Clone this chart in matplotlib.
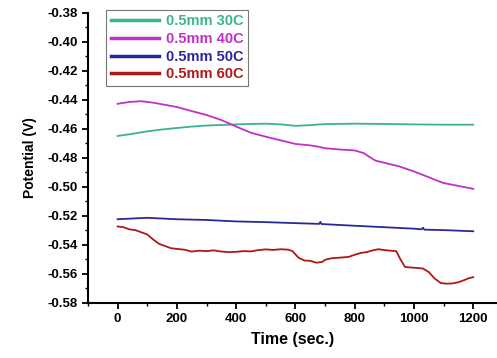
import numpy as np
import matplotlib.pyplot as plt
from matplotlib.ticker import MultipleLocator, FormatStrFormatter

plt.rcParams['font.family'] = ['Liberation Sans', 'DejaVu Sans']
plt.rcParams['font.weight'] = 'bold'

# 0.5mm 30C
t_30 = [0, 50, 100, 150, 200, 250, 300, 350, 400, 450, 500, 550, 600, 650,
        700, 800, 900, 1000, 1100, 1200]
v_30 = [-0.465, -0.4635, -0.4618, -0.4605, -0.4595, -0.4585, -0.4578, -0.4574,
        -0.457, -0.4567, -0.4565, -0.457, -0.458, -0.4575, -0.4568, -0.4565,
        -0.4567, -0.457, -0.4572, -0.4572]

# 0.5mm 40C
t_40 = [0, 40, 80, 120, 160, 200, 250, 300, 350, 400, 450, 500, 550, 600, 650,
        680, 700, 730, 760, 800, 830, 850, 870, 900, 950, 1000, 1050, 1080,
        1100, 1150, 1200]
v_40 = [-0.4428, -0.4415, -0.441, -0.442, -0.4435, -0.445, -0.4478, -0.4505,
        -0.454, -0.4585, -0.4628, -0.4655, -0.468, -0.4705, -0.4715, -0.4725,
        -0.4735, -0.474, -0.4745, -0.475, -0.4768, -0.4795, -0.482, -0.4835,
        -0.486, -0.4895, -0.4935, -0.496, -0.4975, -0.4995, -0.5015]

# 0.5mm 50C
t_50 = [0, 50, 100, 150, 200, 300, 400, 500, 600, 680, 684, 688, 800, 900,
        1000, 1025, 1030, 1035, 1100, 1200]
v_50 = [-0.5225, -0.522, -0.5215, -0.522, -0.5225, -0.523, -0.524, -0.5245,
        -0.5252, -0.5257, -0.5243, -0.5258, -0.527, -0.528, -0.529, -0.5295,
        -0.5283, -0.5297, -0.530, -0.5308]

# 0.5mm 60C
t_60 = [0, 20, 40, 60, 80, 100, 120, 140, 160, 180, 200, 225, 250, 275, 300,
        325, 350, 375, 400, 425, 450, 475, 500, 525, 550, 575, 590, 610, 630,
        650, 670, 690, 700, 720, 750, 780, 800, 820, 840, 860, 880, 900, 920,
        940, 955, 970, 1000, 1030, 1050, 1070, 1090, 1110, 1130, 1150, 1170,
        1185, 1200]
v_60 = [-0.5275, -0.528, -0.5295, -0.530, -0.5315, -0.533, -0.5365, -0.5395,
        -0.541, -0.5425, -0.543, -0.5435, -0.5448, -0.5442, -0.5445, -0.544,
        -0.5448, -0.5452, -0.545, -0.5445, -0.5447, -0.5438, -0.5433, -0.5437,
        -0.5432, -0.5435, -0.5445, -0.549, -0.551, -0.5512, -0.5525, -0.552,
        -0.5505, -0.5495, -0.549, -0.5485, -0.547, -0.5458, -0.5452, -0.544,
        -0.5432, -0.5438, -0.5442, -0.5445, -0.5505, -0.5555, -0.556, -0.5565,
        -0.559, -0.5635, -0.5665, -0.567, -0.5668, -0.566, -0.5645, -0.5632,
        -0.5625]

series = [
    (t_30, v_30, '#3cb48c', '0.5mm 30C'),
    (t_40, v_40, '#c030c8', '0.5mm 40C'),
    (t_50, v_50, '#28289c', '0.5mm 50C'),
    (t_60, v_60, '#b01818', '0.5mm 60C'),
]

fig = plt.figure(figsize=(4.97, 3.58), dpi=100)
ax = fig.add_axes([0.177, 0.155, 0.823, 0.809])

for t, v, c, lab in series:
    ax.plot(t, v, color=c, lw=1.3, label=lab)

ax.set_xlim(-100, 1280)
ax.set_ylim(-0.58, -0.38)
ax.xaxis.set_major_locator(MultipleLocator(200))
ax.xaxis.set_minor_locator(MultipleLocator(100))
ax.yaxis.set_major_locator(MultipleLocator(0.02))
ax.yaxis.set_minor_locator(MultipleLocator(0.01))
ax.yaxis.set_major_formatter(FormatStrFormatter('%.2f'))
ax.set_xticks([0, 200, 400, 600, 800, 1000, 1200])

ax.spines['top'].set_visible(False)
ax.spines['right'].set_visible(False)
ax.spines['left'].set_linewidth(1.5)
ax.spines['bottom'].set_linewidth(1.5)
ax.tick_params(which='major', direction='out', length=4, width=1.3, labelsize=9.5)
ax.tick_params(which='minor', direction='out', length=2.5, width=1.0)
for lbl in ax.get_xticklabels() + ax.get_yticklabels():
    lbl.set_fontweight('bold')

ax.set_xlabel('Time (sec.)', fontsize=11.5, fontweight='bold', labelpad=5)
ax.set_ylabel('Potential (V)', fontsize=10, fontweight='bold', labelpad=7)

leg = ax.legend(loc='upper left', bbox_to_anchor=(0.045, 1.01), fontsize=10.5,
                frameon=True, fancybox=False, edgecolor='#555555',
                handlelength=3.3, handletextpad=0.5, labelspacing=0.25,
                borderpad=0.3, borderaxespad=0)
leg.get_frame().set_linewidth(0.8)
for line, text in zip(leg.get_lines(), leg.get_texts()):
    line.set_linewidth(2.5)
    text.set_color(line.get_color())
    text.set_fontweight('bold')

fig.savefig('out.png', dpi=100)
